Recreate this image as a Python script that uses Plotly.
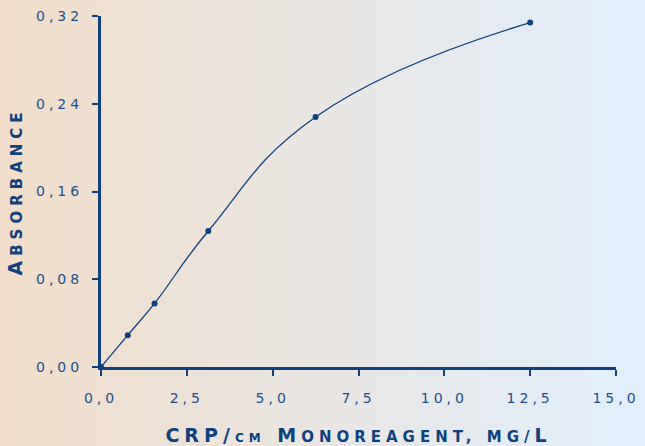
import plotly.graph_objects as go

# calibration data
concentration = [0.0, 0.78, 1.56, 3.125, 6.25, 12.5]
absorbance = [0.0, 0.029, 0.058, 0.124, 0.228, 0.314]

x_ticks = [0, 2.5, 5, 7.5, 10, 12.5, 15]
x_labels = ['0,0', '2,5', '5,0', '7,5', '10,0', '12,5', '15,0']
y_ticks = [0, 0.08, 0.16, 0.24, 0.32]
y_labels = ['0,00', '0,08', '0,16', '0,24', '0,32']

navy = '#0f417f'


def spaced(s, px):
    return '<span style="letter-spacing:%dpx">%s</span>' % (px, s)


def small(s, size=15):
    return '<span style="font-size:%dpx">%s</span>' % (size, s)


fig = go.Figure()

fig.add_trace(go.Scatter(
    x=concentration, y=absorbance,
    mode='lines+markers',
    line=dict(color=navy, width=1.3, shape='spline', smoothing=1.3),
    marker=dict(color=navy, size=6),
    cliponaxis=False,
    showlegend=False,
    hoverinfo='skip',
))

# horizontal peach -> light blue background, built from thin strips
n_strips = 60
left = (241, 221, 201)
right = (225, 239, 253)
x_start = -101 / 515
x_end = 1 + 29 / 515
shapes = []
for i in range(n_strips):
    t = i / (n_strips - 1)
    c = tuple(round(left[k] + (right[k] - left[k]) * t) for k in range(3))
    x0 = x_start + (x_end - x_start) * i / n_strips
    x1 = x_start + (x_end - x_start) * (i + 1) / n_strips
    shapes.append(dict(type='rect', xref='paper', yref='paper',
                       x0=x0, x1=x1 + 0.002, y0=-0.3, y1=1.1,
                       fillcolor='rgb(%d,%d,%d)' % c, line=dict(width=0),
                       layer='below'))

axis_common = dict(
    showline=True, linecolor=navy, linewidth=3,
    ticks='outside', ticklen=6, tickwidth=2, tickcolor=navy,
    showgrid=False, zeroline=False, automargin=False,
    tickfont=dict(family='DejaVu Sans', size=14, color='#1d4e8c'),
)

title_font = dict(family='DejaVu Sans', size=19, color=navy, weight='bold')
x_title = spaced('CRP/' + small('CM', 12) + ' M' + small('ONOREAGENT, MG/') + 'L', 5)
y_title = spaced('A' + small('BSORBANCE'), 5)

fig.update_layout(
    width=645, height=446,
    margin=dict(l=101, r=29, t=16, b=79),
    paper_bgcolor='#e9e8e6',
    plot_bgcolor='rgba(0,0,0,0)',
    shapes=shapes,
    xaxis=dict(
        range=[0, 15], tickvals=x_ticks,
        ticktext=[spaced(s, 4) for s in x_labels],
        ticklabelstandoff=10,
        title=dict(text=x_title, font=title_font, standoff=26),
        **axis_common,
    ),
    yaxis=dict(
        range=[0, 0.32], tickvals=y_ticks,
        ticktext=[spaced(s, 4) for s in y_labels],
        ticklabelstandoff=6,
        title=dict(text=y_title, font=title_font, standoff=9),
        **axis_common,
    ),
)

# page body has a default 8px margin; drop it so the figure fills the window
fig.write_html("out.html", config={'displayModeBar': False},
               post_script="document.body.style.margin='0';")
